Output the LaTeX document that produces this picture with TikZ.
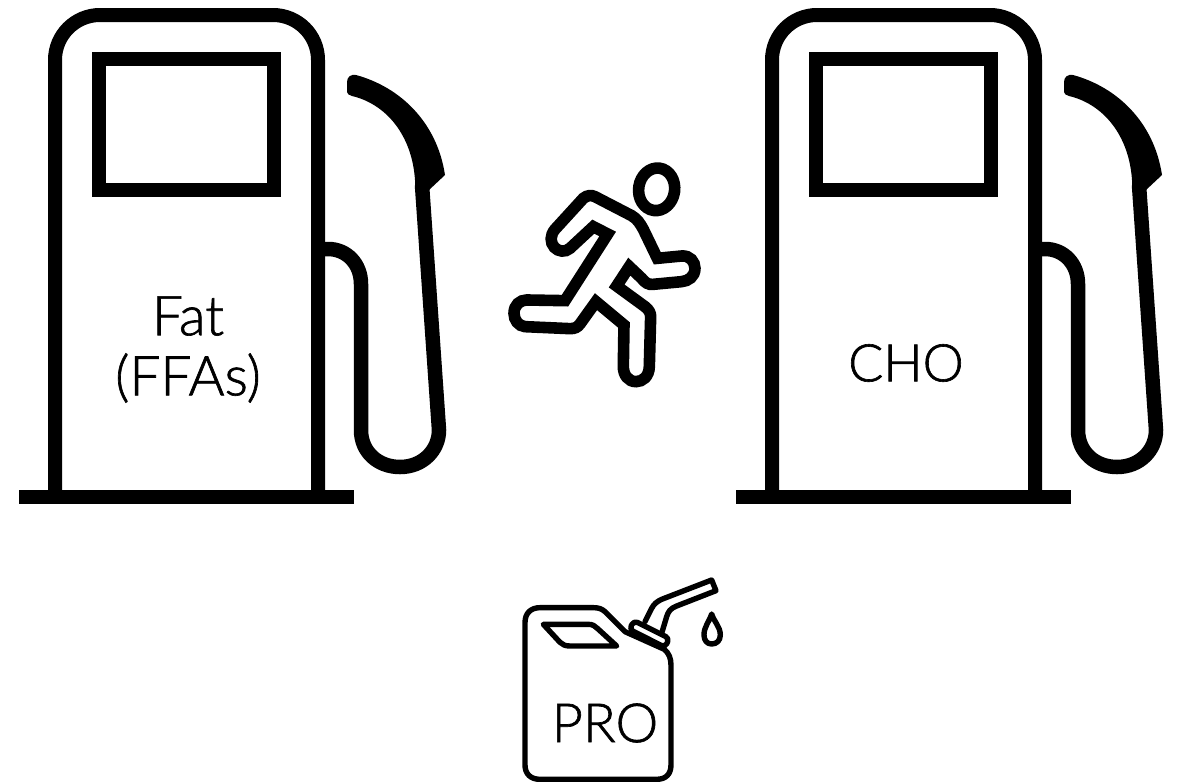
\documentclass[tikz,border=0pt]{standalone}
\usepackage{fontspec}
\setmainfont{Lato}[UprightFont=* Light,UprightFeatures={FakeBold=1.2}]
\tikzset{
  pumpline/.style={draw=black,line width=14pt,line join=miter},
  hoseline/.style={draw=black,line width=14.5pt},
  runline/.style={draw=black,line width=11.6pt,line join=miter,miter limit=10},
  canline/.style={draw=black,line width=5.4pt,line join=round,line cap=round},
  label/.style={font=\fontsize{#1}{#1}\selectfont,text=black,inner sep=0pt,align=center},
  label/.default=54
}
\newcommand{\pumpshape}{%
  \draw[pumpline,rounded corners=45pt] (55,497) -- (55,15) -- (318,15) -- (318,497);
  \fill[black] (19,490) rectangle (354,504);
  \draw[pumpline] (99,59) rectangle (274,190);
  \draw[hoseline] (325,249) -- (328,249) .. controls (347,249) and (361,264) .. (361,284)
     -- (361,430) .. controls (361,452) and (378,467) .. (400,467)
     .. controls (423,467) and (439,450) .. (439,430) -- (422,185);
  \fill[black] (347,92) -- (347,82) .. controls (347,77) and (351,74) .. (356,75)
     .. controls (400,87) and (437,122) .. (445,175) -- (429,190) -- (415,190) -- (415,180)
     .. controls (412,135) and (386,104) .. (352,96) .. controls (349,95) and (347,94) .. (347,92) -- cycle;
}
\begin{document}
\begin{tikzpicture}[x=1pt,y=-1pt]
\useasboundingbox (0,0) rectangle (1179,782);
\pumpshape
\begin{scope}[xshift=717pt]\pumpshape\end{scope}
\node[label=55] (fat) at (188,316) {Fat};
\node[label=55] (ffas) at (188,378) {(FFAs)};
\node[label=52] (cho) at (906,363) {CHO};
\node[label=54] (pro) at (605,723) {PRO};
% runner
\begin{scope}[shift={(500pt,-150pt)},x=0.3333pt,y=-0.3333pt]
\draw[runline,rotate around={-8:(470,118)}] (470,118) ellipse [x radius=54,y radius=64];
\draw[runline] (250,145) .. controls (262,135) and (275,135) .. (285,140) -- (395,197)
 .. controls (412,207) and (420,220) .. (430,238) -- (472,325) -- (545,318)
 .. controls (570,316) and (585,335) .. (585,355) .. controls (585,380) and (565,393) .. (545,395)
 -- (460,403) .. controls (445,405) and (435,398) .. (425,385) -- (388,350) -- (350,408) -- (435,470)
 .. controls (448,480) and (452,490) .. (452,500) -- (448,650)
 .. controls (447,680) and (428,695) .. (408,695) .. controls (385,695) and (370,675) .. (370,650)
 -- (372,525) -- (288,455) -- (240,522) .. controls (232,532) and (225,536) .. (210,536)
 -- (75,530) .. controls (55,528) and (42,510) .. (42,490) .. controls (42,465) and (60,450) .. (80,450)
 -- (195,452) -- (323,252) -- (280,230) -- (210,295) .. controls (195,308) and (175,305) .. (163,292)
 .. controls (150,278) and (150,255) .. (165,238) -- cycle;
\end{scope}
% jerry can
\begin{scope}[shift={(510pt,-570pt)},x=0.3333pt,y=-0.3333pt]
\draw[canline] (345,185) -- (285,125) .. controls (275,116) and (265,113) .. (250,113) -- (90,113)
  .. controls (62,113) and (45,130) .. (45,158) -- (45,585) .. controls (45,612) and (62,628) .. (90,628)
  -- (440,628) .. controls (468,628) and (483,612) .. (483,585) -- (483,285) .. controls (483,265) and (477,250) .. (463,238) -- (345,185);
\draw[canline,rounded corners=4pt] (372,152) -- (478,205) -- (465,232) -- (358,178) -- cycle;
\draw[canline] (405,155) -- (425,115) .. controls (432,102) and (440,95) .. (455,88) -- (605,30) -- (618,62) -- (500,108) .. controls (480,116) and (475,125) .. (470,140) -- (455,190);
\draw[canline] (100,163) -- (235,163) .. controls (248,163) and (255,168) .. (262,175) -- (320,228) -- (180,228) .. controls (165,228) and (158,224) .. (150,217) -- cycle;
\draw[canline] (605,132) .. controls (598,155) and (582,170) .. (582,195) .. controls (582,212) and (592,222) .. (605,222) .. controls (620,222) and (631,212) .. (631,195) .. controls (631,170) and (612,155) .. (605,132) -- cycle;
\end{scope}
\end{tikzpicture}
\end{document}
